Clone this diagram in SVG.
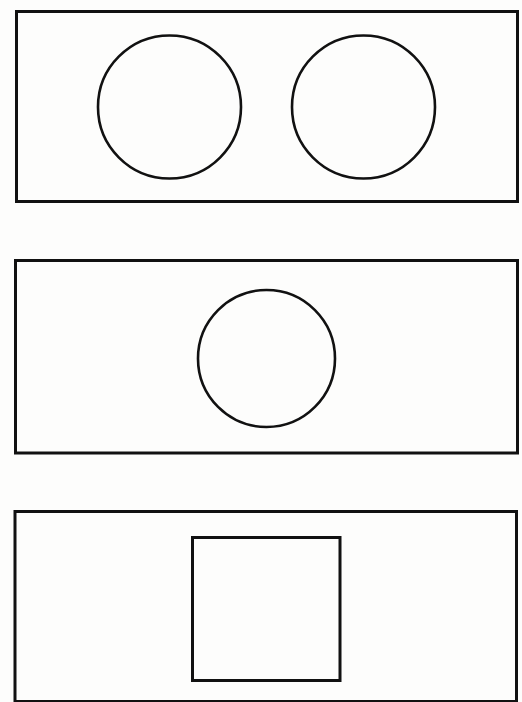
<svg xmlns="http://www.w3.org/2000/svg" width="522" height="702" viewBox="0 0 522 702">
  <style>
    .frame { fill: none; stroke: #111; stroke-width: 3; }
    .shape { fill: none; stroke: #111; stroke-width: 2.6; }
  </style>
  <rect width="522" height="702" fill="#fdfdfc"/>
  <g id="panel1">
    <rect class="frame" x="16.5" y="11.5" width="501" height="190"/>
    <circle id="circle1a" class="shape" cx="169.5" cy="107" r="71.5"/>
    <circle id="circle1b" class="shape" cx="363.5" cy="107" r="71.5"/>
  </g>
  <g id="panel2">
    <rect class="frame" x="15.5" y="260.5" width="502" height="192.5"/>
    <circle id="circle2" class="shape" cx="266.5" cy="358.5" r="68.5"/>
  </g>
  <g id="panel3">
    <rect class="frame" x="15" y="511.5" width="501.5" height="190"/>
    <rect id="square3" class="frame" x="192.5" y="537.5" width="147.5" height="143"/>
  </g>
  <g id="connectors"></g>
</svg>
